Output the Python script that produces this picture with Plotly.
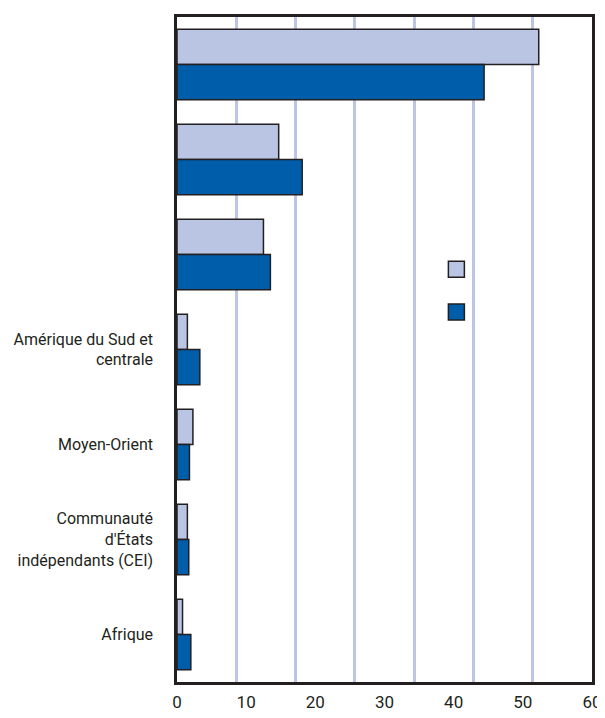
import plotly.graph_objects as go

categories = ["cat1", "cat2", "cat3", "Amérique du Sud et centrale", "Moyen-Orient",
              "Communauté d'États indépendants (CEI)", "Afrique"]
tick_labels = ["", "", "", "Amérique du Sud et<br>centrale", "Moyen-Orient",
               "Communauté<br>d'États<br>indépendants (CEI)", "Afrique"]
series_a = [52.3, 14.7, 12.5, 1.5, 2.3, 1.5, 0.8]
series_b = [44.4, 18.1, 13.5, 3.3, 1.8, 1.7, 2.0]
x_ticks = [0, 10, 20, 30, 40, 50, 60]

LIGHT = "#BAC5E3"
DARK = "#005DAA"
OUTLINE = "#231F20"
GRID = "#BCC6E4"
FONT = "Roboto"

fig = go.Figure()
fig.add_trace(go.Bar(y=categories, x=series_a, orientation="h", showlegend=False,
                     marker=dict(color=LIGHT, line=dict(color=OUTLINE, width=1.5))))
fig.add_trace(go.Bar(y=categories, x=series_b, orientation="h", showlegend=False,
                     marker=dict(color=DARK, line=dict(color=OUTLINE, width=1.5))))
# legend entries (no visible data), on the overlay axis that carries the tick labels
for col, grp in [(LIGHT, "a"), (DARK, "b")]:
    fig.add_trace(go.Scatter(x=[None], y=[None], xaxis="x2", mode="markers", name="",
                             legendgroup=grp, hoverinfo="skip",
                             marker=dict(symbol="square", size=20, color=col,
                                         line=dict(color=OUTLINE, width=1.5))))

fig.update_layout(
    width=605, height=718,
    margin=dict(l=167, r=21, t=6, b=44),
    paper_bgcolor="white", plot_bgcolor="white",
    barmode="group", bargap=0.26, bargroupgap=0,
    font=dict(family=FONT, size=16, color="#231F20"),
    showlegend=True,
    legend=dict(x=0.625, y=0.646, xanchor="left", yanchor="top",
                bgcolor="rgba(0,0,0,0)", font=dict(size=16),
                tracegroupgap=19, traceorder="grouped", itemsizing="trace"),
    xaxis=dict(range=[0, 60], tick0=0, dtick=60 / 7, showgrid=True,
               gridcolor=GRID, gridwidth=2.5, showticklabels=False,
               zeroline=False, showline=True, linecolor=OUTLINE, linewidth=2.5,
               mirror=True, ticks=""),
    xaxis2=dict(range=[0, 60], overlaying="x", anchor="y", side="bottom",
                tickvals=x_ticks, ticktext=[str(v) for v in x_ticks],
                showgrid=False, zeroline=False, showline=False, ticks="",
                ticklabelstandoff=8,
                tickfont=dict(size=17, color="#231F20")),
    yaxis=dict(autorange="reversed", tickvals=categories, ticktext=tick_labels,
               showgrid=False, zeroline=False, showline=True, linecolor=OUTLINE,
               linewidth=2.5, mirror=True, ticks="", ticklabelstandoff=18,
               tickfont=dict(size=16, color="#231F20")),
)

fig.write_html("out.html")
